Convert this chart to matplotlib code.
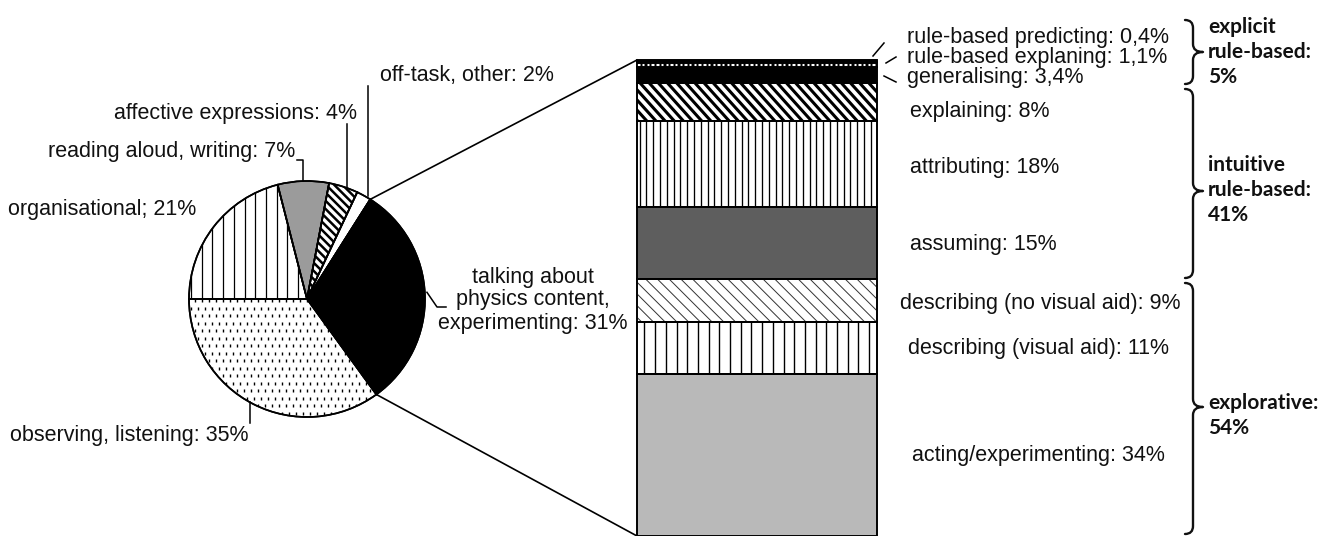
import numpy as np
import matplotlib
matplotlib.use("Agg")
import matplotlib.pyplot as plt
from matplotlib.collections import LineCollection
from matplotlib.path import Path
from matplotlib.patches import PathPatch

# ---------------- data ----------------
pie_labels = ["organisational; 21%", "reading aloud, writing: 7%",
              "affective expressions: 4%", "off-task, other: 2%",
              "talking about\nphysics content,\nexperimenting: 31%",
              "observing, listening: 35%"]
pie_values = [21, 7, 4, 2, 31, 35]

bar_labels = ["rule-based predicting: 0,4%", "rule-based explaning: 1,1%",
              "generalising: 3,4%", "explaining: 8%", "attributing: 18%",
              "assuming: 15%", "describing (no visual aid): 9%",
              "describing (visual aid): 11%", "acting/experimenting: 34%"]
bar_values = [0.4, 1.1, 3.4, 8, 18, 15, 9, 11, 34]

group_labels = ["explicit\nrule-based:\n5%", "intuitive\nrule-based:\n41%",
                "explorative:\n54%"]

# ---------------- layout ----------------
W, H = 1333, 536
def Y(y):  # image-pixel y (from top) -> data y
    return H - y

LABEL_FONT = "Liberation Sans"
FS = 15.5
BOLD_FONT = "Lato"
BFS = 15

fig = plt.figure(figsize=(W / 100, H / 100), dpi=100)
ax = fig.add_axes([0, 0, 1, 1])

pie_center = (307, Y(299))
pie_radius = 118
pie_colors = ["white", "#9b9b9b", "white", "white", "black", "white"]

wedges, _ = ax.pie(pie_values, startangle=180, counterclock=False,
                   center=pie_center, radius=pie_radius, colors=pie_colors,
                   wedgeprops=dict(edgecolor="black", linewidth=1.2))
ax.set_xlim(0, W)
ax.set_ylim(0, H)
ax.set_aspect("auto")
ax.axis("off")


def outline(patch, lw=1.2, z=5):
    p = patch.get_patch_transform().transform_path(patch.get_path())
    ax.add_patch(PathPatch(p, fill=False, edgecolor="black", lw=lw, zorder=z))


def hatch(patch, angle, spacing, lw, color="black"):
    path = patch.get_path()
    tr = patch.get_patch_transform()
    bb = path.get_extents(tr)
    c = np.array([(bb.x0 + bb.x1) / 2, (bb.y0 + bb.y1) / 2])
    R = np.hypot(bb.width, bb.height) / 2 + spacing
    a = np.deg2rad(angle)
    d = np.array([np.cos(a), np.sin(a)])
    n = np.array([-d[1], d[0]])
    segs = []
    for t in np.arange(-R, R + spacing, spacing):
        p = c + t * n
        segs.append([p - R * d, p + R * d])
    lc = LineCollection(segs, colors=color, linewidths=lw, zorder=3)
    ax.add_collection(lc)
    lc.set_clip_path(patch)


def dashes(patch, dx, dy, length, lw, color="black", vertical=True, stagger=True):
    path = patch.get_path()
    tr = patch.get_patch_transform()
    bb = path.get_extents(tr)
    if dy >= bb.height:
        rows = [(bb.y0 + bb.y1) / 2]
    else:
        rows = np.arange(bb.y0 + dy / 2, bb.y1, dy)
    segs = []
    for j, yy in enumerate(rows):
        off = dx / 2 if (stagger and j % 2) else 0
        for xx in np.arange(bb.x0 + off + dx / 3, bb.x1, dx):
            if vertical:
                segs.append([(xx, yy - length / 2), (xx, yy + length / 2)])
            else:
                segs.append([(xx - length / 2, yy), (xx + length / 2, yy)])
    lc = LineCollection(segs, colors=color, linewidths=lw, zorder=3)
    ax.add_collection(lc)
    lc.set_clip_path(patch)


# pie patterns
hatch(wedges[0], 90, 10.7, 0.9)          # organisational: vertical lines
hatch(wedges[2], -45, 5.8, 1.8)          # affective: thick diagonal
dashes(wedges[5], 7.0, 7.5, 3.2, 1.0)    # observing: small dashes
for w in wedges:
    outline(w)

# ---------------- stacked bar ----------------
bar_left, bar_width, bar_top_img = 637, 240, 60
bar_total = Y(bar_top_img)
scale = bar_total / sum(bar_values)
heights = np.array(bar_values) * scale
tops = bar_total - np.concatenate([[0], np.cumsum(heights)[:-1]])
bottoms = tops - heights
bar_colors = ["black", "black", "black", "white", "white", "#5e5e5e",
              "white", "white", "#b9b9b9"]
rects = ax.bar(bar_left, heights, bottom=bottoms, width=bar_width, align="edge",
               color=bar_colors, edgecolor="black", linewidth=1.2, zorder=2)

dashes(rects[1], 4.7, 100, 2.4, 2.2, color="white", vertical=False, stagger=False)
hatch(rects[3], -48, 6.8, 2.2)           # explaining: thick diagonal
hatch(rects[4], 90, 6.8, 0.95)           # attributing: dense vertical
hatch(rects[6], -45, 8.3, 0.7, color="#333333")  # describing (no visual aid)
hatch(rects[7], 90, 10.7, 1.0)           # describing (visual aid)
for r in rects:
    outline(r)

# connector lines from pie to bar
w_talk = wedges[4]
a1 = np.deg2rad(w_talk.theta2)
a2 = np.deg2rad(w_talk.theta1)
cx, cy = pie_center
ax.plot([cx + pie_radius * np.cos(a1), bar_left], [cy + pie_radius * np.sin(a1), bar_total],
        color="black", lw=1.2, zorder=4)
ax.plot([cx + pie_radius * np.cos(a2), bar_left], [cy + pie_radius * np.sin(a2), 0],
        color="black", lw=1.2, zorder=4)


def edge_point(w, r_extra=0):
    m = np.deg2rad((w.theta1 + w.theta2) / 2)
    return cx + (pie_radius + r_extra) * np.cos(m), cy + (pie_radius + r_extra) * np.sin(m)


tkw = dict(fontfamily=LABEL_FONT, fontsize=FS, color="#111111", zorder=6)
lkw = dict(color="black", lw=1.1, zorder=6)

# pie labels
ax.text(8, Y(210), pie_labels[0], ha="left", va="center", **tkw)

px, py = edge_point(wedges[1])
ax.plot([px, px, 297], [py, Y(160), Y(160)], **lkw)
ax.text(295, Y(152), pie_labels[1], ha="right", va="center", **tkw)

px, py = edge_point(wedges[2])
ax.plot([px + 4, px + 4], [py, Y(124)], **lkw)
ax.text(357, Y(114), pie_labels[2], ha="right", va="center", **tkw)

px, py = edge_point(wedges[3])
ax.plot([px + 4, px + 4], [py, Y(86)], **lkw)
ax.text(380, Y(76), pie_labels[3], ha="left", va="center", **tkw)

px, py = edge_point(wedges[4])
ax.plot([px + 2, 437, 446], [py + 3, Y(307), Y(307)], **lkw)
for k, line in enumerate(pie_labels[4].split("\n")):
    ax.text(533, Y(277 + 23 * k), line, ha="center", va="center", **tkw)

px, py = edge_point(wedges[5])
ax.plot([px - 3, px - 3], [py + 2, Y(423)], **lkw)
ax.text(10, Y(436), pie_labels[5], ha="left", va="center", **tkw)

# bar labels
top_label_y = [38, 57, 77]
label_x = [907, 907, 907, 910, 910, 910, 900, 908, 912]
label_shift = [0, 0, 0, 9, 3, 2, 3, 1, 1]
for i, lab in enumerate(bar_labels):
    if i < 3:
        y = Y(top_label_y[i])
    else:
        y = (tops[i] + bottoms[i]) / 2 - label_shift[i]
    ax.text(label_x[i], y, lab, ha="left", va="center", **tkw)

ax.plot([873, 884], [Y(56), Y(43)], **lkw)
ax.plot([886, 896], [Y(63), Y(57)], **lkw)
ax.plot([884, 896], [Y(76), Y(82)], **lkw)


# braces
def brace(x0, ytop, ybot, ytip, hook=8, tip=10, lw=1.7):
    r = hook
    verts = [(x0 - hook, ytop), (x0, ytop), (x0, ytop - r),
             (x0, ytip + r), (x0, ytip), (x0 + tip, ytip),
             (x0, ytip), (x0, ytip - r),
             (x0, ybot + r), (x0, ybot), (x0 - hook, ybot)]
    codes = [Path.MOVETO, Path.CURVE3, Path.CURVE3,
             Path.LINETO, Path.CURVE3, Path.CURVE3,
             Path.CURVE3, Path.CURVE3,
             Path.LINETO, Path.CURVE3, Path.CURVE3]
    ax.add_patch(PathPatch(Path(verts, codes), fill=False, edgecolor="#111111",
                           lw=lw, zorder=6, capstyle="round", joinstyle="round"))


brace_spans = [(20, 84, 52), (89, 278, 191), (283, 534, 407)]
group_text_y = [27, 165, 403]
for (t, b, m), lab, gy in zip(brace_spans, group_labels, group_text_y):
    brace(1193, Y(t), Y(b), Y(m))
    for k, line in enumerate(lab.split("\n")):
        ax.text(1208, Y(gy + 25 * k), line, ha="left", va="center",
                fontfamily=BOLD_FONT, fontweight="bold", fontsize=BFS,
                color="#111111", zorder=6)

fig.savefig("out.png", dpi=100, facecolor="white")
